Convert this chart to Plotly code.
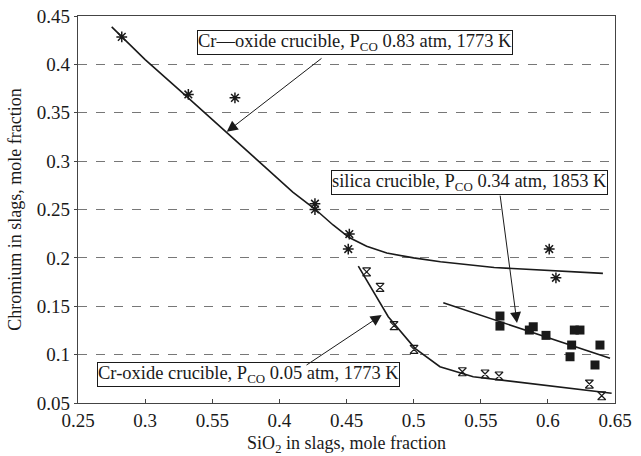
import plotly.graph_objects as go

# Cr-oxide crucible, P_CO 0.83 atm, 1773 K (asterisks)
sio2_hi = [0.2826, 0.3322, 0.3669, 0.4265, 0.4265, 0.4521, 0.4513, 0.601, 0.606]
cr_hi = [0.4284, 0.3689, 0.3654, 0.2560, 0.2500, 0.2246, 0.2091, 0.2091, 0.1794]
fit_hi_x = [0.2751, 0.30, 0.33, 0.36, 0.39, 0.41, 0.4265, 0.44, 0.452, 0.465, 0.48, 0.50, 0.52, 0.56, 0.60, 0.641]
fit_hi_y = [0.4387, 0.405, 0.368, 0.331, 0.293, 0.268, 0.2505, 0.234, 0.221, 0.212, 0.205, 0.200, 0.196, 0.190, 0.187, 0.184]

# Cr-oxide crucible, P_CO 0.05 atm, 1773 K (hourglasses)
sio2_lo = [0.465, 0.475, 0.4854, 0.5003, 0.5363, 0.5532, 0.5636, 0.6309, 0.6401]
cr_lo = [0.1856, 0.1695, 0.1299, 0.1055, 0.0823, 0.0800, 0.0779, 0.0696, 0.0575]
fit_lo_x = [0.4588, 0.4811, 0.501, 0.5196, 0.5444, 0.5891, 0.6215, 0.6475]
fit_lo_y = [0.1915, 0.1392, 0.1065, 0.0875, 0.0772, 0.0696, 0.0642, 0.0600]

# silica crucible, P_CO 0.34 atm, 1853 K (filled squares)
sio2_si = [0.5643, 0.5643, 0.5862, 0.5891, 0.5986, 0.6177, 0.6165, 0.6197, 0.6239, 0.6388, 0.6351]
cr_si = [0.1399, 0.1295, 0.1254, 0.1288, 0.1199, 0.1099, 0.0978, 0.1254, 0.1254, 0.1099, 0.0893]
fit_si_x = [0.5221, 0.6463]
fit_si_y = [0.1536, 0.0962]

x_ticks = [0.25, 0.30, 0.35, 0.40, 0.45, 0.50, 0.55, 0.60, 0.65]
x_tick_text = ["0.25", "0.3", "0.55", "0.4", "0.45", "0.5", "0.55", "0.6", "0.65"]
y_ticks = [0.05, 0.10, 0.15, 0.20, 0.25, 0.30, 0.35, 0.40, 0.45]
y_tick_text = ["0.05", "0.1", "0.15", "0.2", "0.25", "0.3", "0.35", "0.4", "0.45"]

SERIF = "Liberation Serif"
INK = "#1a1a1a"

fig = go.Figure()

for fx, fy in [(fit_hi_x, fit_hi_y), (fit_lo_x, fit_lo_y), (fit_si_x, fit_si_y)]:
    fig.add_trace(go.Scatter(x=fx, y=fy, mode="lines",
                             line=dict(color=INK, width=1.6),
                             hoverinfo="skip"))

fig.add_trace(go.Scatter(x=sio2_hi, y=cr_hi, mode="markers",
                         marker=dict(symbol="asterisk-open", size=9, color=INK,
                                     line=dict(color=INK, width=1.5))))
fig.add_trace(go.Scatter(x=sio2_lo, y=cr_lo, mode="markers",
                         marker=dict(symbol="hourglass-open", size=8, color=INK,
                                     line=dict(color=INK, width=1.2))))
fig.add_trace(go.Scatter(x=sio2_si, y=cr_si, mode="markers",
                         marker=dict(symbol="square", size=9, color=INK,
                                     line=dict(width=0))))

# labelled boxes
labels = [
    (0.4560, 0.4229, "Cr\u2014oxide crucible, P<sub>CO</sub> 0.83 atm, 1773 K"),
    (0.5416, 0.2778, "silica crucible, P<sub>CO</sub> 0.34 atm, 1853 K"),
    (0.3770, 0.0794, "Cr-oxide crucible, P<sub>CO</sub> 0.05 atm, 1773 K"),
]
for lx, ly, txt in labels:
    fig.add_annotation(x=lx, y=ly, text=txt, showarrow=False,
                       font=dict(family=SERIF, size=18.5, color=INK),
                       bgcolor="white", bordercolor=INK, borderwidth=1, borderpad=0)

# pointer arrows: (tail x, tail y, head x, head y)
arrows = [
    (0.4325, 0.4074, 0.3608, 0.3303),
    (0.5643, 0.2659, 0.5770, 0.1326),
    (0.4191, 0.0882, 0.4762, 0.1409),
]
for tx, ty, hx, hy in arrows:
    fig.add_annotation(x=hx, y=hy, ax=tx, ay=ty, xref="x", yref="y",
                       axref="x", ayref="y", text="", showarrow=True,
                       arrowhead=2, arrowsize=2.2, arrowwidth=1, arrowcolor=INK)

fig.update_layout(
    width=641, height=456,
    margin=dict(l=78, r=26, t=16, b=53, autoexpand=False),
    paper_bgcolor="white", plot_bgcolor="white",
    showlegend=False,
    font=dict(family=SERIF, color=INK),
)
fig.update_xaxes(
    range=[0.25, 0.65], tickvals=x_ticks, ticktext=x_tick_text,
    tickfont=dict(family=SERIF, size=19, color=INK),
    ticks="inside", ticklen=4, tickcolor="#444",
    showline=True, linecolor="#444", linewidth=1.2, mirror=True,
    showgrid=False, zeroline=False, automargin=False,
    title=dict(text="SiO<sub>2</sub> in slags, mole fraction",
               font=dict(family=SERIF, size=18, color=INK), standoff=9),
)
fig.update_yaxes(
    range=[0.05, 0.45], tickvals=y_ticks, ticktext=y_tick_text,
    tickfont=dict(family=SERIF, size=19, color=INK),
    ticks="outside", ticklen=3, tickcolor="#444",
    showline=True, linecolor="#444", linewidth=1.2, mirror=True,
    showgrid=True, gridcolor="#777", gridwidth=1, griddash="dash",
    zeroline=False, automargin=False,
    title=dict(text="Chromium in slags, mole fraction",
               font=dict(family=SERIF, size=18, color=INK), standoff=10),
)

fig.write_html("out.html")
